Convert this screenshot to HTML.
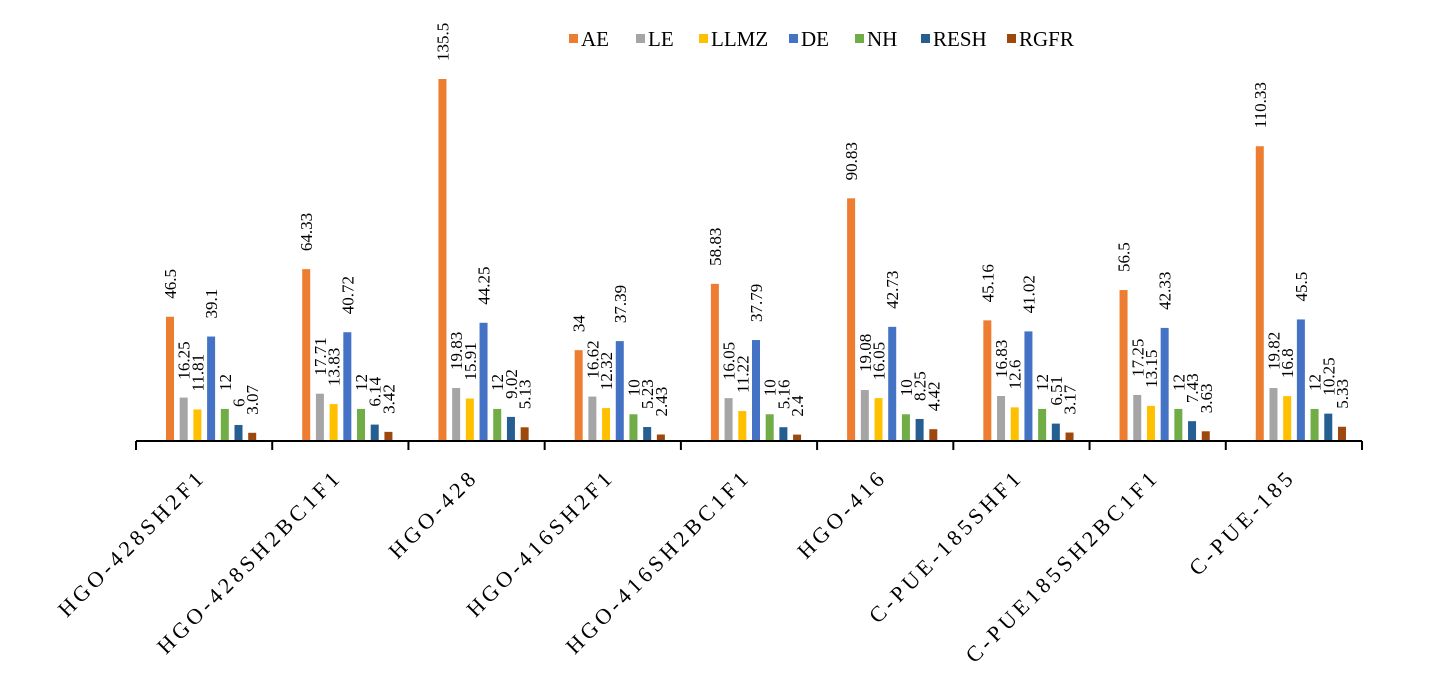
<!DOCTYPE html>
<html><head><meta charset="utf-8"><style>
html,body{margin:0;padding:0;background:#fff;}
svg{display:block;font-family:"Liberation Serif",serif;}
</style></head><body>
<svg id="chart" width="1430" height="697" viewBox="0 0 1430 697"></svg>
<script>
const categories = ["HGO-428SH2F1","HGO-428SH2BC1F1","HGO-428","HGO-416SH2F1","HGO-416SH2BC1F1","HGO-416","C-PUE-185SHF1","C-PUE185SH2BC1F1","C-PUE-185"];
const seriesNames = ["AE","LE","LLMZ","DE","NH","RESH","RGFR"];
const AE   = [46.5,64.33,135.5,34,58.83,90.83,45.16,56.5,110.33];
const LE   = [16.25,17.71,19.83,16.62,16.05,19.08,16.83,17.25,19.82];
const LLMZ = [11.81,13.83,15.91,12.32,11.22,16.05,12.6,13.15,16.8];
const DE   = [39.1,40.72,44.25,37.39,37.79,42.73,41.02,42.33,45.5];
const NH   = [12,12,12,10,10,10,12,12,12];
const RESH = [6,6.14,9.02,5.23,5.16,8.25,6.51,7.43,10.25];
const RGFR = [3.07,3.42,5.13,2.43,2.4,4.42,3.17,3.63,5.33];
const seriesValues = [AE,LE,LLMZ,DE,NH,RESH,RGFR];
const colors = ["#ED7D31","#A5A5A5","#FFC000","#4472C4","#70AD47","#255E91","#9E480E"];

const NS="http://www.w3.org/2000/svg";
const svg=document.getElementById('chart');
const x0=136, x1=1362, y0=441, pxPerUnit=(441-79)/135.5;
const gw=(x1-x0)/categories.length;
function yScale(v){return y0-v*pxPerUnit;}
function xBar(ci,si){return x0+ci*gw+34+si*13.7;}
function mk(tag,attrs){const e=document.createElementNS(NS,tag);for(const k in attrs)e.setAttribute(k,attrs[k]);svg.appendChild(e);return e;}

seriesValues.forEach((vals,si)=>{
  vals.forEach((v,ci)=>{
    const cx=xBar(ci,si), y=yScale(v);
    const r=mk('rect',{x:cx-4,y:y,width:8,height:y0-y,fill:colors[si]});
    
    
    const t=mk('text',{x:0,y:0,'font-size':17,fill:'#000','text-anchor':'start',transform:`translate(${cx+6},${y-18}) rotate(-90)`});
    t.textContent=String(v);
    
    
  });
});

const ax=mk('line',{x1:x0,y1:y0,x2:x1,y2:y0,stroke:'#000','stroke-width':2});


for(let i=0;i<=categories.length;i++){
  const tx=x0+i*gw;
  const tk=mk('line',{x1:tx,y1:y0,x2:tx,y2:y0+9,stroke:'#000','stroke-width':2});
  
  
}
categories.forEach((c,ci)=>{
  const cx=x0+(ci+0.5)*gw;
  const t=mk('text',{x:0,y:0,'font-size':22,'letter-spacing':4,fill:'#000','text-anchor':'end',transform:`translate(${cx+3},${478}) rotate(-45)`});
  t.textContent=c;
  
  
});

const legX=[569,636,699,789,855,921,1007];
seriesNames.forEach((n,si)=>{
  const g=document.createElementNS(NS,'g');svg.appendChild(g);
  
  
  const r=document.createElementNS(NS,'rect');
  r.setAttribute('x',legX[si]);r.setAttribute('y',34);r.setAttribute('width',9);r.setAttribute('height',9);r.setAttribute('fill',colors[si]);
  g.appendChild(r);
  const t=document.createElementNS(NS,'text');
  t.setAttribute('x',legX[si]+12);t.setAttribute('y',46);t.setAttribute('font-size',21);
  t.textContent=n;g.appendChild(t);
});
</script>
</body></html>
